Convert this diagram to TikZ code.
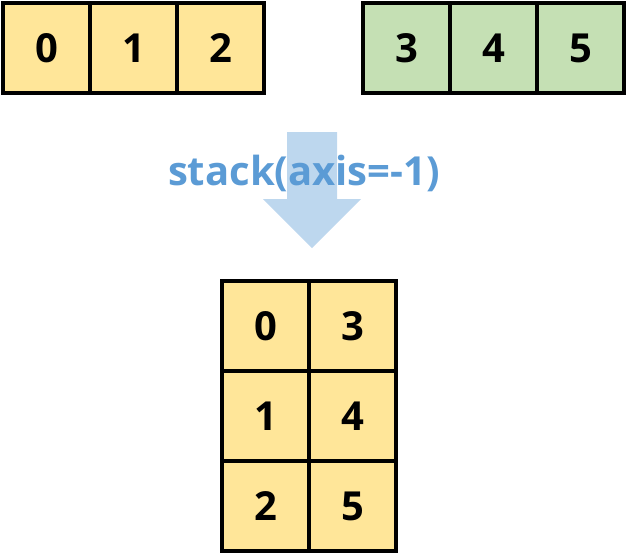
\documentclass[tikz,border=0pt]{standalone}
\usepackage{fontspec}
\setmainfont{Open Sans}
\definecolor{cyel}{HTML}{FFE699}
\definecolor{cgrn}{HTML}{C5E0B4}
\definecolor{carrow}{HTML}{BDD7EE}
\definecolor{ctext}{HTML}{5B9BD5}
\begin{document}
\begin{tikzpicture}[x=1pt,y=-1pt,
  cellbox/.style={draw=black,line width=3.5pt,minimum width=87pt,minimum height=90pt,inner sep=0pt,outer sep=0pt,anchor=north west,font=\fontsize{40}{40}\selectfont\bfseries},
  yel/.style={cellbox,fill=cyel},
  grn/.style={cellbox,fill=cgrn}]
\useasboundingbox (0,0) rectangle (629,557);
% top left
\node[yel] (a0) at (3,3) {0};
\node[yel] (a1) at (90,3) {1};
\node[yel] (a2) at (177,3) {2};
% top right
\node[grn] (b3) at (363,3) {3};
\node[grn] (b4) at (450,3) {4};
\node[grn] (b5) at (537,3) {5};
% arrow
\fill[carrow] (287,132) -- (337,132) -- (337,199) -- (361,199) -- (312,248) -- (263,199) -- (287,199) -- cycle;
\node[text=ctext,font=\fontsize{40}{40}\selectfont\bfseries] (lbl) at (304,173) {stack(axis=-1)};
% bottom
\node[yel] (c0) at (222,281) {0};
\node[yel] (c3) at (309,281) {3};
\node[yel] (c1) at (222,371) {1};
\node[yel] (c4) at (309,371) {4};
\node[yel] (c2) at (222,461) {2};
\node[yel] (c5) at (309,461) {5};
\end{tikzpicture}
\end{document}
